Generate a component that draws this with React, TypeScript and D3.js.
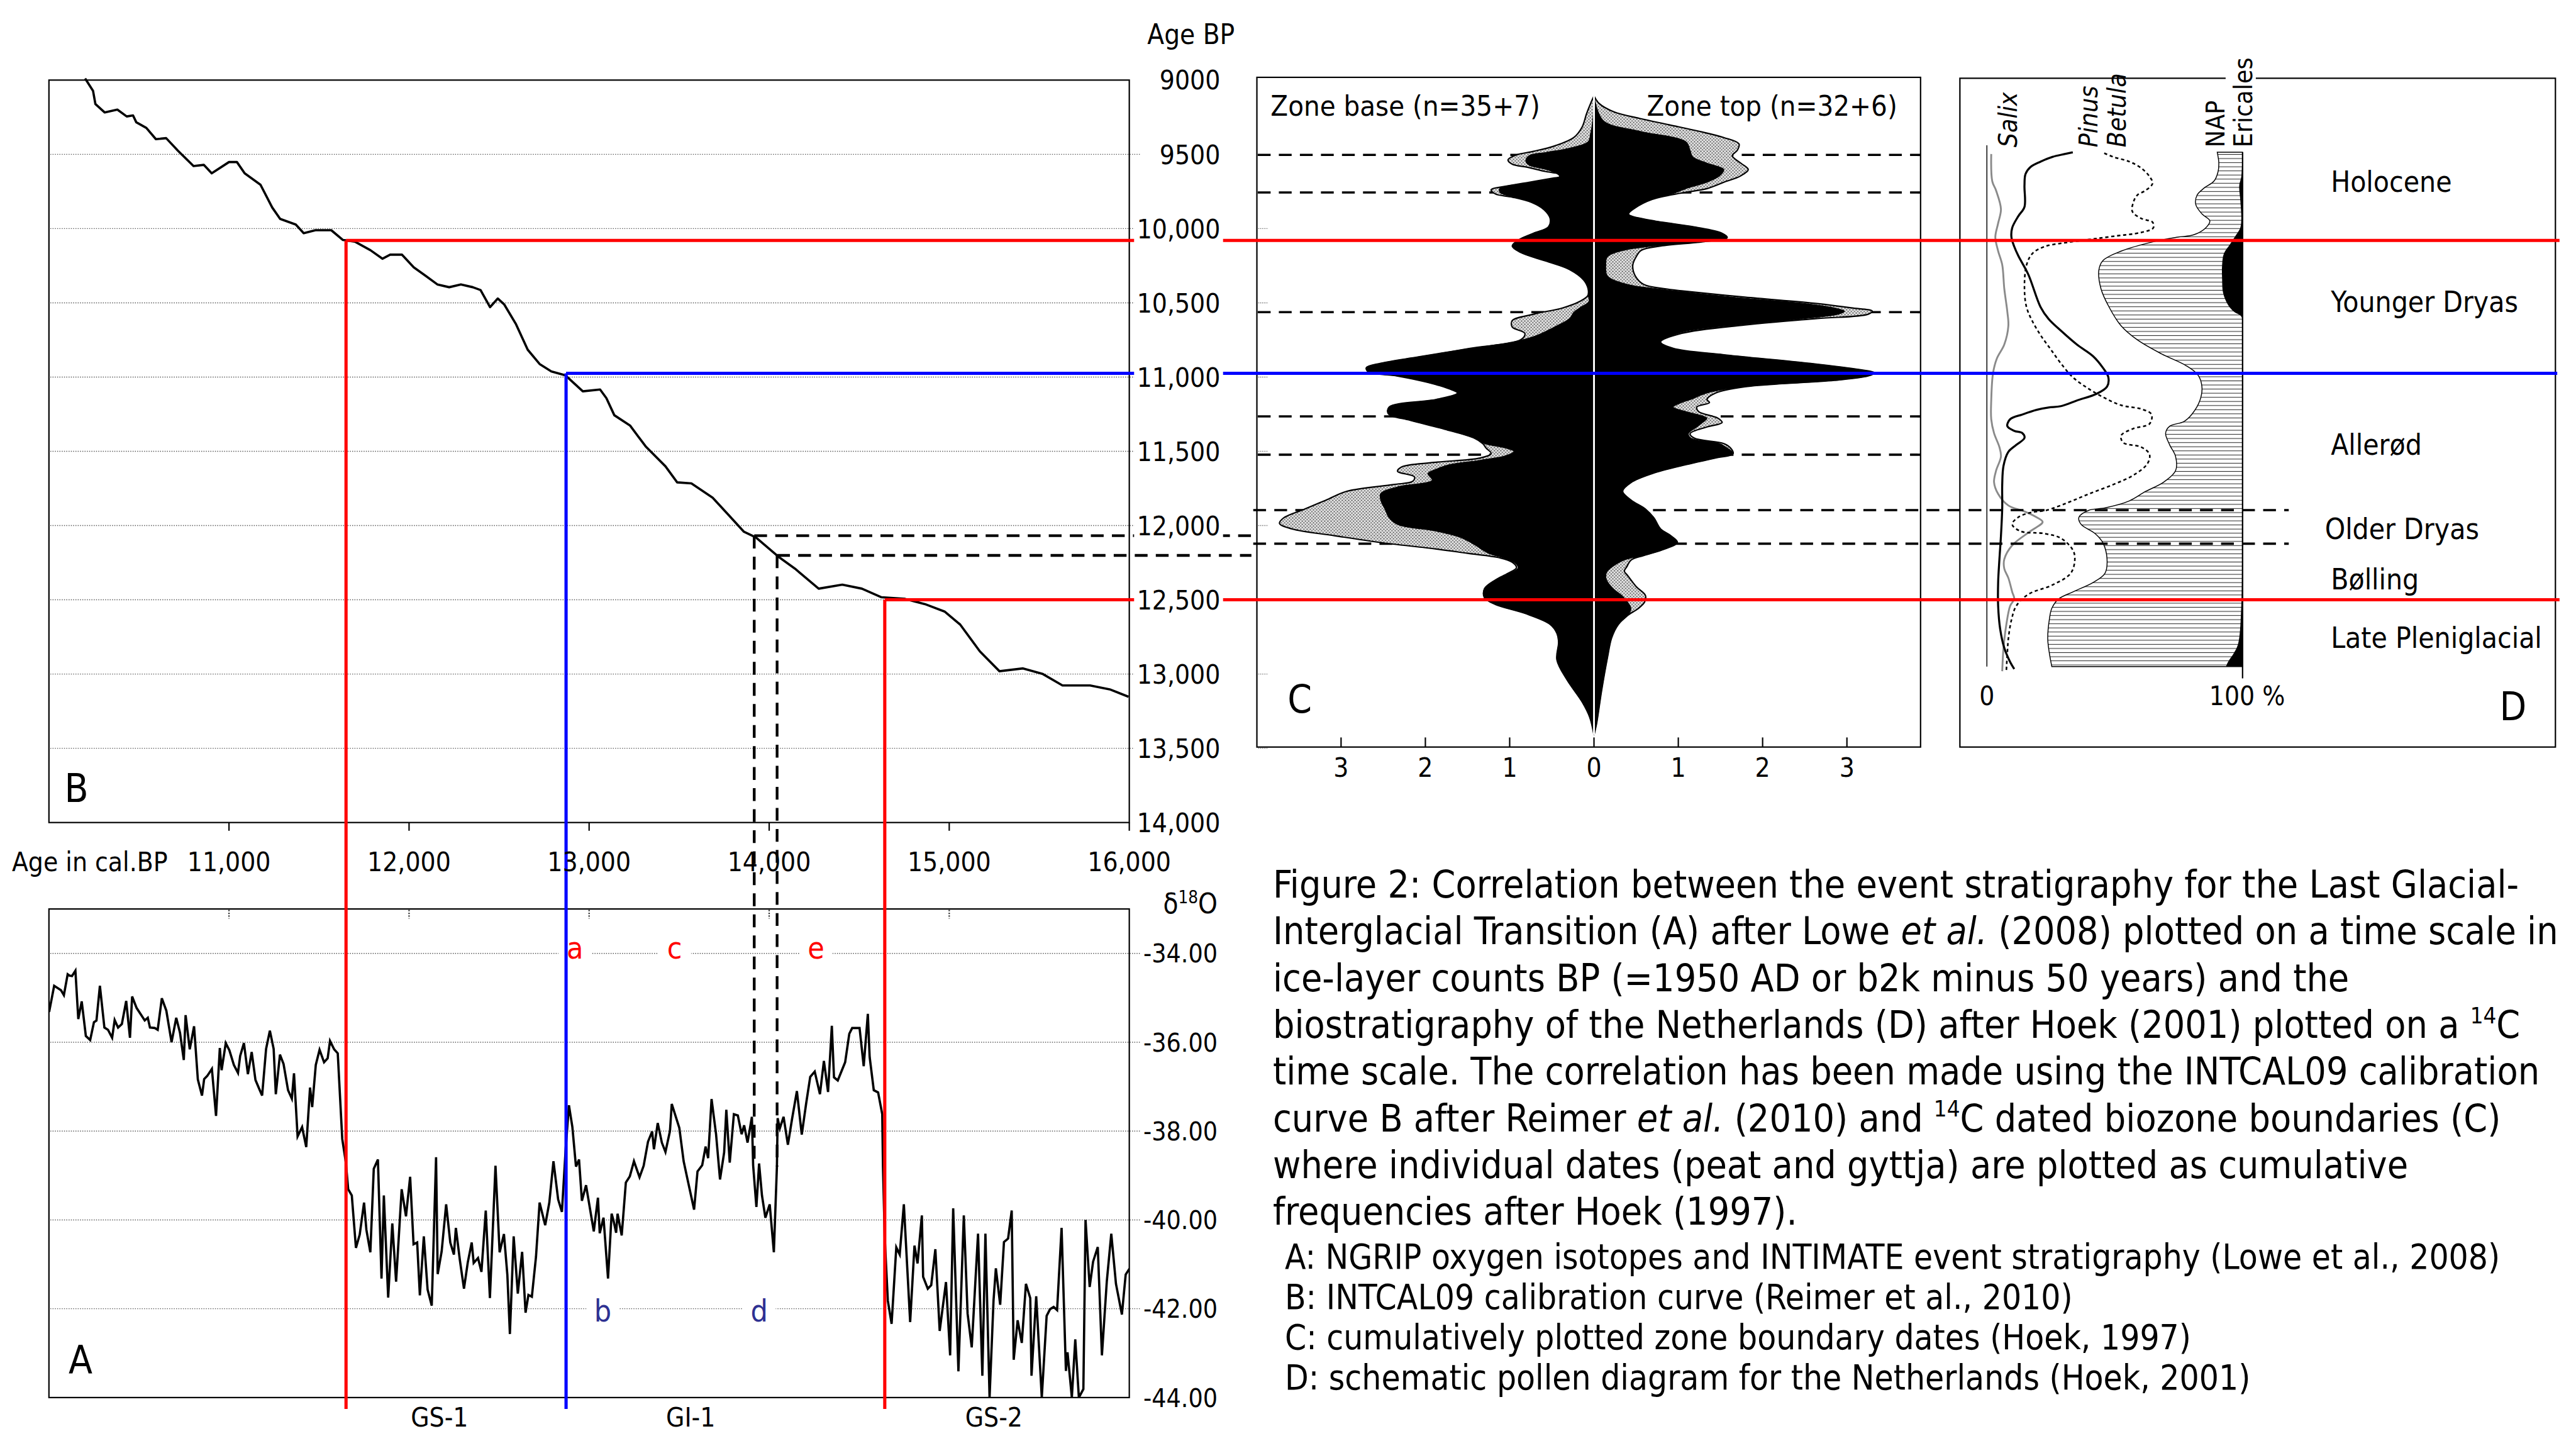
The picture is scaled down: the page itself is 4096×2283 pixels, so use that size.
import React, { useEffect, useRef } from "react";
import * as d3 from "d3";

const FONT = "'DejaVu Sans Condensed', 'DejaVu Sans', sans-serif";

// ---- B: INTCAL09 calibration curve (cal BP -> 14C BP)
const calB = [10201, 10245, 10258, 10310, 10380, 10432, 10467, 10485, 10541, 10594, 10651, 10716, 10803, 10860, 10904, 11000, 11044, 11087, 11175, 11240, 11284, 11371, 11415, 11480, 11568, 11633, 11699, 11786, 11852, 11895, 11961, 12026, 12092, 12157, 12223, 12288, 12354, 12397, 12450, 12493, 12528, 12594, 12659, 12725, 12790, 12869, 12965, 13061, 13096, 13140, 13227, 13314, 13424, 13489, 13568, 13686, 13773, 13860, 13926, 14057, 14144, 14275, 14406, 14515, 14624, 14755, 14865, 14974, 15061, 15170, 15279, 15410, 15520, 15629, 15782, 15891, 15996];
const c14B = [8989, 9073, 9161, 9218, 9199, 9245, 9238, 9284, 9322, 9398, 9391, 9475, 9579, 9571, 9628, 9552, 9552, 9628, 9705, 9858, 9935, 9973, 10031, 10011, 10011, 10077, 10088, 10146, 10203, 10176, 10176, 10261, 10318, 10376, 10395, 10376, 10395, 10414, 10529, 10471, 10510, 10644, 10816, 10912, 10962, 10989, 11096, 11084, 11142, 11257, 11326, 11467, 11601, 11709, 11716, 11812, 11927, 12042, 12080, 12215, 12291, 12425, 12398, 12425, 12483, 12494, 12529, 12579, 12667, 12847, 12981, 12962, 13000, 13077, 13077, 13103, 13153];

// ---- A: NGRIP d18O
const calA = [10001, 10029, 10056, 10067, 10083, 10104, 10114, 10128, 10147, 10163, 10182, 10205, 10229, 10250, 10264, 10283, 10308, 10328, 10351, 10365, 10384, 10405, 10429, 10450, 10462, 10487, 10516, 10532, 10549, 10561, 10588, 10604, 10627, 10652, 10681, 10707, 10728, 10749, 10759, 10782, 10806, 10827, 10850, 10862, 10879, 10905, 10928, 10949, 10959, 10982, 11002, 11027, 11050, 11062, 11083, 11105, 11126, 11147, 11171, 11184, 11206, 11227, 11248, 11260, 11283, 11303, 11328, 11349, 11361, 11381, 11406, 11429, 11450, 11462, 11482, 11503, 11528, 11548, 11561, 11584, 11604, 11629, 11649, 11662, 11682, 11705, 11726, 11750, 11763, 11785, 11804, 11827, 11847, 11860, 11884, 11907, 11928, 11959, 11983, 12006, 12025, 12045, 12060, 12082, 12103, 12126, 12150, 12159, 12181, 12206, 12229, 12249, 12260, 12282, 12305, 12326, 12348, 12359, 12383, 12402, 12426, 12449, 12480, 12503, 12527, 12546, 12560, 12581, 12604, 12628, 12647, 12663, 12682, 12705, 12725, 12756, 12779, 12802, 12828, 12849, 12870, 12888, 12907, 12927, 12944, 12960, 12983,
  13026, 13049, 13059, 13080, 13105, 13125, 13136, 13150, 13158, 13181, 13204, 13226, 13249, 13280, 13303, 13327, 13350, 13360, 13381, 13404, 13424, 13449, 13459, 13501, 13525, 13544, 13583, 13602, 13628, 13647, 13661, 13680, 13705, 13727, 13750, 13762, 13781, 13804, 13826, 13847, 13861, 13880, 13904, 13911, 13929, 13944, 13960, 13979, 14003, 14026, 14043, 14047, 14059, 14080, 14104, 14127, 14154, 14181, 14205, 14228, 14253, 14282, 14304, 14327, 14348, 14360, 14381, 14422, 14445, 14461, 14502, 14525, 14548, 14558, 14581, 14605, 14628, 14632, 14642, 14659, 14680, 14706, 14725, 14748, 14783, 14807, 14824, 14848, 14855, 14881, 14900, 14923, 14947, 14982, 15005, 15022, 15051, 15081, 15102, 15125, 15160, 15184, 15201, 15224, 15246, 15259, 15283, 15304, 15327, 15347, 15358, 15380, 15403, 15426, 15450, 15457, 15483, 15514, 15541, 15560, 15580, 15599, 15624, 15648, 15657, 15681, 15700, 15720, 15745, 15757, 15780, 15799, 15825, 15848, 15875, 15900, 15926, 15959, 15980, 16001];
const d18oA = [-35.32, -34.73, -34.80, -34.83, -34.94, -34.47, -34.50, -34.51, -34.39, -35.48, -35.08, -35.86, -35.95, -35.55, -35.51, -34.73, -35.67, -35.72, -35.90, -35.50, -35.67, -35.59, -35.07, -35.90, -34.97, -35.23, -35.41, -35.51, -35.45, -35.67, -35.68, -35.72, -35.01, -35.29, -36.00, -35.45, -35.79, -36.40, -35.39, -36.16, -35.64, -36.84, -37.20, -36.83, -36.76, -36.60, -37.66, -36.13, -36.63, -36.02, -36.18, -36.51, -36.69, -36.31, -36.02, -36.72, -36.22, -36.85, -37.08, -37.20, -36.15, -35.74, -36.15, -37.17, -36.28, -36.49, -37.08, -37.27, -36.70, -38.12, -37.91, -38.36, -37.02, -37.46, -36.51, -36.17, -36.45, -36.36, -35.97, -36.16, -36.25, -38.18, -38.71, -39.31, -39.45, -40.63, -40.33, -39.61, -40.22, -40.73, -38.85, -38.64, -41.32, -39.45, -41.75, -40.08, -41.39, -39.31, -39.92, -39.03, -40.55, -40.51, -41.70, -40.37, -41.57, -41.93, -38.59, -41.22, -40.71, -39.65, -40.51, -40.78, -40.18, -40.90, -41.55, -40.96, -40.51, -40.97, -40.86, -41.17, -39.79, -41.76, -38.78, -40.73, -40.32, -41.24, -42.57, -40.37, -41.66, -40.72, -42.09, -41.69, -41.73, -40.83, -39.61, -40.12, -39.61, -38.68, -39.54, -39.82, -38.39, -37.42, -37.91, -38.80, -38.64, -39.57, -39.22,
  -40.26, -39.50, -40.30, -39.95, -41.32, -39.86, -40.02, -40.29, -39.86, -40.35, -39.16, -39.02, -38.68, -39.04, -38.78, -38.24, -38.01, -38.41, -37.82, -38.26, -38.47, -38.00, -37.39, -37.93, -38.68, -39.04, -39.77, -38.91, -38.77, -38.35, -38.61, -37.28, -38.07, -39.09, -38.48, -37.52, -38.71, -37.62, -37.65, -38.07, -37.87, -38.26, -37.68, -38.77, -39.71, -38.73, -39.45, -39.95, -39.65, -40.73, -38.80, -37.71, -37.94, -37.68, -38.31, -37.73, -37.10, -38.08, -37.39, -36.78, -36.66, -37.17, -36.42, -37.12, -35.63, -36.79, -36.86, -36.45, -35.81, -35.68, -35.68, -36.54, -35.36, -36.33, -37.08, -37.13, -37.62, -38.80, -40.42, -41.82, -42.34, -40.62, -40.78, -39.65, -42.30, -40.58, -40.98, -39.90, -41.28, -41.55, -41.47, -40.66, -42.50, -41.40, -43.05, -39.74, -43.41, -39.90, -42.11, -42.87, -40.31, -43.51, -40.31, -44.00, -41.82, -41.09, -41.91, -40.50, -40.42, -39.79, -43.15, -42.26, -42.77, -41.44, -41.76, -43.51, -41.72, -44.00, -42.16, -42.01, -41.96, -42.03, -40.18, -43.40, -42.98, -44.00, -42.69, -44.00, -43.81, -40.00, -41.51, -40.94, -40.61, -43.05, -41.39, -40.31, -41.44, -42.13, -41.23, -41.10];

// ---- correlation lines (cal BP / 14C BP)
const redCal = [11650, 14642];
const redC14 = [10080, 12500];
const blueCal = 12872;
const blueC14 = 10975;
const dashCal = [13917, 14044];
const dashC14 = [12068, 12201];
const dashC = [9504, 9757, 10563, 11265, 11523];
const dashCD = [11896, 12122];

// ---- ticks
const yTicksB = [9000, 9500, 10000, 10500, 11000, 11500, 12000, 12500, 13000, 13500, 14000];
const xTicksCal = [11000, 12000, 13000, 14000, 15000, 16000];
const yTicksA = [-34, -36, -38, -40, -42, -44];
const cTicks = [-3, -2, -1, 0, 1, 2, 3];

// ---- event labels in A
const eventsRed = [["a", 12921], ["c", 13475], ["e", 14260]];
const eventsBlue = [["b", 13076], ["d", 13945]];
const stadials = [["GS-1", 12169], ["GI-1", 13564], ["GS-2", 15248]];

// ---- C: cumulative zone boundary dates [14C age, frequency]
const baseTotal = [[9107, 0], [9157, 0.04], [9229, 0.09], [9315, 0.14], [9387, 0.24], [9444, 0.47], [9480, 0.72], [9504, 0.92], [9537, 1.02], [9566, 0.97], [9587, 0.79], [9616, 0.57], [9633, 0.39], [9645, 0.34], [9659, 0.47], [9688, 0.77], [9717, 1.07], [9738, 1.22], [9767, 1.17], [9788, 0.97], [9824, 0.74], [9874, 0.59], [9932, 0.52], [9989, 0.54], [10032, 0.72], [10075, 0.89], [10118, 0.97], [10161, 0.87], [10219, 0.57], [10276, 0.29], [10348, 0.12], [10405, 0.07], [10448, 0.07], [10491, 0.17], [10534, 0.37], [10577, 0.72], [10620, 0.97], [10663, 0.97], [10706, 0.82], [10749, 0.87], [10807, 1.47], [10864, 2.08], [10907, 2.53], [10936, 2.70], [10964, 2.68], [10993, 2.33], [11036, 1.97], [11079, 1.72], [11108, 1.62], [11151, 1.87], [11202, 2.43], [11247, 2.44], [11291, 2.18], [11351, 1.77], [11411, 1.42], [11448, 1.32], [11478, 1.28], [11515, 1.22], [11545, 1.35], [11575, 1.9], [11605, 2.28], [11635, 2.33], [11672, 2.13], [11702, 2.15], [11724, 2.38], [11769, 2.93], [11829, 3.18], [11889, 3.43], [11948, 3.68], [11986, 3.73], [12023, 3.58], [12068, 3.08], [12113, 2.55], [12158, 1.87], [12187, 1.5], [12217, 1.12], [12247, 0.97], [12284, 0.92], [12322, 1.02], [12367, 1.17], [12426, 1.3], [12486, 1.3], [12531, 1.17], [12591, 0.82], [12665, 0.52], [12725, 0.44], [12785, 0.42], [12904, 0.44], [13039, 0.32], [13188, 0.14], [13292, 0.05], [13412, 0]];
const baseBlack = [[9107, 0], [9272, 0.015], [9358, 0.04], [9415, 0.07], [9458, 0.29], [9487, 0.57], [9509, 0.77], [9544, 0.81], [9573, 0.77], [9602, 0.57], [9630, 0.44], [9648, 0.41], [9666, 0.49], [9695, 0.82], [9731, 1.12], [9760, 1.11], [9788, 0.94], [9824, 0.74], [9874, 0.59], [9932, 0.52], [9989, 0.54], [10032, 0.72], [10075, 0.89], [10118, 0.97], [10161, 0.87], [10219, 0.57], [10276, 0.29], [10348, 0.12], [10405, 0.07], [10448, 0.07], [10491, 0.06], [10534, 0.17], [10563, 0.24], [10606, 0.29], [10649, 0.42], [10692, 0.57], [10728, 0.72], [10764, 0.97], [10807, 1.47], [10864, 2.08], [10907, 2.53], [10936, 2.7], [10964, 2.68], [10993, 2.33], [11036, 1.97], [11079, 1.72], [11108, 1.62], [11151, 1.87], [11202, 2.43], [11247, 2.44], [11291, 2.18], [11351, 1.77], [11411, 1.42], [11448, 1.3], [11478, 1.05], [11500, 0.95], [11530, 1.05], [11560, 1.35], [11590, 1.72], [11620, 1.87], [11650, 1.97], [11695, 1.92], [11739, 2.33], [11784, 2.53], [11829, 2.53], [11889, 2.48], [11948, 2.43], [11993, 2.33], [12038, 1.87], [12083, 1.57], [12128, 1.42], [12187, 1.25], [12217, 1.08], [12247, 0.95], [12284, 0.9], [12322, 1.0], [12367, 1.17], [12426, 1.3], [12486, 1.3], [12531, 1.17], [12591, 0.82], [12665, 0.52], [12725, 0.44], [12785, 0.42], [12904, 0.44], [13039, 0.32], [13188, 0.14], [13292, 0.05], [13412, 0]];
const topTotal = [[9107, 0], [9157, 0.06], [9215, 0.24], [9258, 0.54], [9301, 0.89], [9344, 1.24], [9387, 1.54], [9430, 1.72], [9473, 1.7], [9509, 1.64], [9559, 1.74], [9602, 1.83], [9645, 1.74], [9688, 1.54], [9731, 1.34], [9760, 1.04], [9803, 0.69], [9860, 0.49], [9903, 0.41], [9946, 0.69], [9989, 1.19], [10032, 1.52], [10061, 1.58], [10089, 1.29], [10118, 0.79], [10147, 0.56], [10190, 0.5], [10247, 0.46], [10319, 0.49], [10376, 0.59], [10405, 0.84], [10419, 1.04], [10462, 1.79], [10505, 2.65], [10534, 3.05], [10556, 3.3], [10577, 3.25], [10606, 2.65], [10649, 1.79], [10706, 1.04], [10764, 0.79], [10807, 0.94], [10850, 1.54], [10907, 2.55], [10950, 3.15], [10972, 3.33], [10993, 3.25], [11022, 2.85], [11065, 1.79], [11108, 1.44], [11151, 1.34], [11172, 1.37], [11202, 1.22], [11232, 1.24], [11277, 1.47], [11306, 1.52], [11336, 1.34], [11381, 1.14], [11411, 1.19], [11448, 1.54], [11478, 1.62], [11515, 1.65], [11545, 1.44], [11590, 1.09], [11650, 0.69], [11710, 0.44], [11769, 0.34], [11829, 0.44], [11889, 0.61], [11948, 0.71], [12023, 0.79], [12068, 0.91], [12113, 0.99], [12158, 0.84], [12202, 0.59], [12232, 0.44], [12277, 0.39], [12307, 0.36], [12337, 0.4], [12411, 0.5], [12471, 0.61], [12516, 0.6], [12561, 0.52], [12605, 0.4], [12665, 0.29], [12755, 0.21], [12889, 0.16], [13113, 0.09], [13337, 0.03], [13412, 0]];
const topBlack = [[9107, 0], [9272, 0.11], [9344, 0.54], [9415, 1.09], [9473, 1.14], [9516, 1.17], [9559, 1.34], [9602, 1.54], [9645, 1.49], [9688, 1.34], [9731, 1.09], [9760, 0.96], [9803, 0.69], [9860, 0.49], [9903, 0.41], [9946, 0.69], [9989, 1.19], [10032, 1.52], [10061, 1.58], [10089, 1.29], [10118, 0.7], [10147, 0.35], [10190, 0.16], [10247, 0.14], [10319, 0.16], [10376, 0.4], [10405, 0.75], [10419, 0.95], [10462, 1.65], [10505, 2.5], [10534, 2.85], [10556, 2.97], [10577, 2.9], [10606, 2.5], [10649, 1.7], [10706, 1.0], [10764, 0.79], [10807, 0.94], [10850, 1.54], [10907, 2.55], [10950, 3.15], [10972, 3.33], [10993, 3.25], [11022, 2.85], [11065, 1.79], [11108, 1.34], [11151, 1.15], [11172, 1.04], [11202, 0.94], [11232, 1.09], [11277, 1.34], [11306, 1.29], [11336, 1.22], [11381, 1.12], [11411, 1.15], [11448, 1.49], [11478, 1.58], [11515, 1.65], [11545, 1.44], [11590, 1.09], [11650, 0.69], [11710, 0.44], [11769, 0.34], [11829, 0.44], [11889, 0.61], [11948, 0.71], [12023, 0.79], [12068, 0.91], [12113, 0.99], [12158, 0.84], [12202, 0.59], [12232, 0.36], [12277, 0.22], [12307, 0.16], [12337, 0.14], [12367, 0.15], [12426, 0.23], [12471, 0.33], [12516, 0.4], [12561, 0.44], [12605, 0.4], [12665, 0.29], [12755, 0.21], [12889, 0.16], [13113, 0.09], [13337, 0.03], [13412, 0]];

// ---- D: schematic pollen diagram [14C age, %]
const salix = [[9498, 1.7], [9681, 2.1], [9744, 3.6], [9869, 5.5], [9964, 4.4], [10058, 3.3], [10151, 4.4], [10244, 6.0], [10404, 6.8], [10561, 8.0], [10655, 8.4], [10781, 6.8], [10875, 3.9], [10974, 2.4], [11158, 1.7], [11284, 1.7], [11378, 2.8], [11472, 4.9], [11535, 5.5], [11630, 3.6], [11708, 2.8], [11787, 4.4], [11865, 8.4], [11905, 14.7], [11944, 19.4], [11976, 21.8], [12038, 17.0], [12133, 9.9], [12227, 6.8], [12290, 6.8], [12353, 8.4], [12447, 9.9], [12494, 10.7], [12541, 9.1], [12667, 7.6], [12824, 6.5], [12981, 6.0]];
const pinus = [[9486, 33.6], [9498, 30.4], [9517, 25.7], [9549, 21.0], [9586, 17.0], [9633, 15.1], [9712, 14.7], [9854, 14.7], [9916, 12.3], [9995, 9.9], [10058, 9.6], [10121, 10.7], [10184, 12.3], [10309, 16.2], [10529, 21.0], [10608, 24.1], [10687, 28.9], [10781, 35.2], [10859, 41.5], [10938, 45.4], [11001, 47.5], [11064, 47.0], [11111, 43.1], [11158, 35.2], [11196, 28.9], [11205, 24.1], [11221, 19.4], [11252, 13.9], [11284, 9.1], [11331, 8.0], [11362, 10.7], [11378, 13.9], [11410, 14.7], [11457, 11.5], [11504, 8.4], [11598, 6.5], [11724, 6.0], [11881, 6.0], [12070, 5.5], [12227, 4.9], [12384, 4.4], [12541, 4.4], [12698, 5.2], [12824, 6.8], [12919, 9.1], [12966, 10.7]];
const betula = [[9492, 45.9], [9517, 49.4], [9549, 55.7], [9593, 60.4], [9649, 63.6], [9696, 64.8], [9744, 62.0], [9775, 58.8], [9822, 57.3], [9885, 56.9], [9932, 60.4], [9957, 64.8], [9995, 65.1], [10026, 60.4], [10052, 49.4], [10074, 39.9], [10096, 30.4], [10121, 22.6], [10168, 17.8], [10246, 15.5], [10404, 14.7], [10529, 15.5], [10624, 17.8], [10718, 21.0], [10812, 24.9], [10907, 28.9], [11001, 33.6], [11080, 39.9], [11142, 46.2], [11190, 52.5], [11215, 60.4], [11252, 64.4], [11315, 63.6], [11347, 57.3], [11394, 52.5], [11441, 53.3], [11472, 60.4], [11520, 63.6], [11583, 62.8], [11661, 57.3], [11724, 49.4], [11787, 39.9], [11843, 32.0], [11897, 23.3], [11913, 17.0], [11944, 12.3], [11991, 9.9], [12038, 13.1], [12054, 22.6], [12085, 28.9], [12164, 33.6], [12227, 34.4], [12321, 32.8], [12400, 25.7], [12463, 16.2], [12541, 11.5], [12636, 9.6], [12761, 8.4], [12856, 8.0], [12981, 7.6]];
const nap = [[9486, 90.1], [9555, 90.7], [9618, 90.4], [9681, 88.8], [9728, 84.9], [9775, 82.2], [9838, 81.7], [9901, 84.1], [9948, 87.2], [9995, 85.6], [10042, 80.9], [10058, 74.6], [10089, 65.1], [10152, 52.5], [10215, 45.4], [10278, 43.8], [10404, 44.6], [10529, 47.8], [10655, 52.5], [10749, 58.8], [10844, 68.3], [10922, 77.8], [10985, 82.5], [11064, 84.1], [11158, 83.3], [11252, 80.1], [11300, 77.0], [11331, 71.5], [11378, 69.9], [11457, 71.5], [11535, 73.8], [11630, 73.8], [11708, 69.1], [11771, 62.0], [11834, 55.7], [11881, 46.2], [11897, 39.9], [11944, 36.0], [11991, 36.8], [12054, 42.3], [12117, 45.4], [12227, 47.0], [12321, 46.2], [12384, 41.5], [12447, 33.6], [12494, 28.1], [12557, 25.4], [12636, 24.4], [12761, 23.8], [12856, 24.4], [12950, 25.4]];
const ericales = [[9486, 100], [9649, 99.5], [9712, 98.7], [9806, 99.1], [9932, 99.5], [9995, 99.1], [10042, 97.5], [10105, 95.1], [10168, 92.7], [10246, 92.0], [10341, 92.0], [10435, 92.4], [10514, 94.3], [10561, 96.7], [10592, 99.5], [10655, 100], [11913, 99.8], [12541, 99.5], [12793, 98.3], [12856, 96.7], [12919, 94.3], [12950, 93.5]];
const zones = [["Holocene", 9681], ["Younger Dryas", 10491], ["Allerød", 11455], ["Older Dryas", 12022], ["Bølling", 12361], ["Late Pleniglacial", 12755]];
const taxa = [["Salix", 4409, true], ["Pinus", 4585, true], ["Betula", 4647, true], ["NAP", 4863, false], ["Ericales", 4924, false]];

// ---- caption
const caption = [
  [{ t: "Figure 2: Correlation between the event stratigraphy for the Last Glacial-" }],
  [{ t: "Interglacial Transition (A) after Lowe " }, { t: "et al.", i: true }, { t: " (2008) plotted on a time scale in" }],
  [{ t: "ice-layer counts BP (=1950 AD or b2k minus 50 years) and the" }],
  [{ t: "biostratigraphy of the Netherlands (D) after Hoek (2001) plotted on a " }, { t: "14", s: true }, { t: "C" }],
  [{ t: "time scale. The correlation has been made using the INTCAL09 calibration" }],
  [{ t: "curve B after Reimer " }, { t: "et al.", i: true }, { t: " (2010) and " }, { t: "14", s: true }, { t: "C dated biozone boundaries (C)" }],
  [{ t: "where individual dates (peat and gyttja) are plotted as cumulative" }],
  [{ t: "frequencies after Hoek (1997)." }],
];
const captionSub = [
  "A: NGRIP oxygen isotopes and INTIMATE event stratigraphy (Lowe et al., 2008)",
  "B: INTCAL09 calibration curve (Reimer et al., 2010)",
  "C: cumulatively plotted zone boundary dates (Hoek, 1997)",
  "D: schematic pollen diagram for the Netherlands (Hoek, 2001)",
];

export default function App() {
  const ref = useRef<SVGSVGElement>(null);

  useEffect(() => {
    const svg = d3.select(ref.current);
    svg.selectAll("*").remove();

    const xCal = d3.scaleLinear().domain([10000, 16000]).range([107, 2469]);
    const yC14 = d3.scaleLinear().domain([9000, 14000]).range([175, 1798]);
    const yD18 = d3.scaleLinear().domain([-44, -33]).range([3055, 1987]);
    const cMid = 3485;
    const xC = d3.scaleLinear().domain([-3, 3]).range([cMid - 553, cMid + 553]);
    const xPct = d3.scaleLinear().domain([0, 100]).range([4344, 4903]);

    const txt = (g, x, y, s, size, anchor = "start") =>
      g.append("text")
        .attr("x", x)
        .attr("y", y + size * 0.36)
        .attr("font-size", size)
        .attr("font-family", FONT)
        .attr("text-anchor", anchor)
        .attr("fill", "#000")
        .text(s);
    const mask = (g, t, pad = 5) => {
      const b = t.node().getBBox();
      g.insert("rect", () => t.node())
        .attr("x", b.x - pad).attr("y", b.y).attr("width", b.width + 2 * pad).attr("height", b.height)
        .attr("fill", "#fff");
    };
    const hline = (g, y, x1, x2) => g.append("line").attr("x1", x1).attr("x2", x2).attr("y1", y).attr("y2", y);
    const vline = (g, x, y1, y2) => g.append("line").attr("x1", x).attr("x2", x).attr("y1", y1).attr("y2", y2);

    const defs = svg.append("defs");
    const st = defs.append("pattern").attr("id", "stipple").attr("patternUnits", "userSpaceOnUse").attr("width", 7).attr("height", 7);
    st.append("rect").attr("width", 7).attr("height", 7).attr("fill", "#e6e6e6");
    st.append("circle").attr("cx", 1.75).attr("cy", 1.75).attr("r", 1.5).attr("fill", "#555");
    st.append("circle").attr("cx", 5.25).attr("cy", 5.25).attr("r", 1.5).attr("fill", "#555");
    const ht = defs.append("pattern").attr("id", "hatch").attr("patternUnits", "userSpaceOnUse").attr("width", 12).attr("height", 9);
    ht.append("rect").attr("width", 12).attr("height", 9).attr("fill", "#fff");
    ht.append("line").attr("x1", 0).attr("x2", 12).attr("y1", 4.5).attr("y2", 4.5).attr("stroke", "#333").attr("stroke-width", 1.5);
    defs.append("clipPath").attr("id", "clipA").append("rect").attr("x", 107).attr("y", 1987).attr("width", 2362).attr("height", 1068);

    svg.append("rect").attr("width", 5632).attr("height", 3139).attr("fill", "#fff");

    // ---------- panel B frame
    const gB = svg.append("g");
    gB.selectAll(".gb").data(yTicksB.slice(1, -1)).join("line")
      .attr("x1", 110).attr("x2", 2493).attr("y1", d => yC14(d)).attr("y2", d => yC14(d))
      .attr("stroke", "#555").attr("stroke-width", 2).attr("stroke-dasharray", "2,3");
    gB.append("rect").attr("x", 107).attr("y", 175).attr("width", 2362).attr("height", 1623)
      .attr("fill", "none").attr("stroke", "#000").attr("stroke-width", 3);
    gB.selectAll(".tb").data(xTicksCal).join("line")
      .attr("x1", d => xCal(d)).attr("x2", d => xCal(d)).attr("y1", 1798).attr("y2", 1816)
      .attr("stroke", "#000").attr("stroke-width", 3);

    // ---------- panel A frame
    const gA = svg.append("g");
    gA.selectAll(".ga").data(yTicksA.slice(0, -1)).join("line")
      .attr("x1", 110).attr("x2", 2493).attr("y1", d => yD18(d)).attr("y2", d => yD18(d))
      .attr("stroke", "#555").attr("stroke-width", 2).attr("stroke-dasharray", "2,3");
    gA.selectAll(".ta").data(xTicksCal.slice(0, -1)).join("line")
      .attr("x1", d => xCal(d)).attr("x2", d => xCal(d)).attr("y1", 1989).attr("y2", 2008)
      .attr("stroke", "#333").attr("stroke-width", 3).attr("stroke-dasharray", "3,3");
    gA.append("rect").attr("x", 107).attr("y", 1987).attr("width", 2362).attr("height", 1068)
      .attr("fill", "none").attr("stroke", "#000").attr("stroke-width", 3);
    [...eventsRed.map(e => [e[1], -33.87]), ...eventsBlue.map(e => [e[1], -42.04])].forEach(([c, v]) => {
      gA.append("rect").attr("x", xCal(c) - 36).attr("y", yD18(v) - 36).attr("width", 72).attr("height", 72).attr("fill", "#fff");
    });

    // ---------- panel C frame + grey areas
    const gC = svg.append("g");
    gC.append("rect").attr("x", 2748).attr("y", 169).attr("width", 1451).attr("height", 1464)
      .attr("fill", "none").attr("stroke", "#000").attr("stroke-width", 3);
    gC.selectAll(".tc").data(yTicksB.slice(2, -1)).join("line")
      .attr("x1", 2751).attr("x2", 2772).attr("y1", d => yC14(d)).attr("y2", d => yC14(d))
      .attr("stroke", "#777").attr("stroke-width", 2).attr("stroke-dasharray", "2,2");
    gC.selectAll(".tcx").data(cTicks).join("line")
      .attr("x1", d => xC(d)).attr("x2", d => xC(d)).attr("y1", 1612).attr("y2", 1633)
      .attr("stroke", "#000").attr("stroke-width", 3);
    const curve = d3.curveCatmullRom.alpha(0.5);
    const areaC = (sign) => d3.area().curve(curve).y(d => yC14(d[0])).x0(cMid).x1(d => xC(sign * d[1]));
    const lineC = (sign) => d3.line().curve(curve).y(d => yC14(d[0])).x(d => xC(sign * d[1]));
    [[baseTotal, -1], [topTotal, 1]].forEach(([data, s]) => {
      gC.append("path").attr("d", areaC(s)(data)).attr("fill", "url(#stipple)");
      gC.append("path").attr("d", lineC(s)(data)).attr("fill", "none").attr("stroke", "#000").attr("stroke-width", 3);
    });

    // ---------- panel D
    const gD = svg.append("g");
    gD.append("rect").attr("x", 4285).attr("y", 171).attr("width", 1302).attr("height", 1462)
      .attr("fill", "none").attr("stroke", "#000").attr("stroke-width", 3);
    gD.append("rect").attr("x", 4866).attr("y", 150).attr("width", 66).attr("height", 40).attr("fill", "#fff");
    const lineD = d3.line().curve(curve).y(d => yC14(d[0])).x(d => xPct(d[1]));
    const areaD = d3.area().curve(curve).y(d => yC14(d[0])).x0(d => xPct(d[1])).x1(xPct(100));
    gD.append("path").attr("d", areaD(nap)).attr("fill", "url(#hatch)").attr("stroke", "#000").attr("stroke-width", 2);
    gD.append("path").attr("d", areaD(ericales)).attr("fill", "#000");
    vline(gD, xPct(0), yC14(9439), yC14(12950)).attr("stroke", "#000").attr("stroke-width", 2);
    vline(gD, xPct(100), yC14(9486), yC14(13029)).attr("stroke", "#000").attr("stroke-width", 3);
    gD.append("path").attr("d", lineD(salix)).attr("fill", "none").attr("stroke", "#8a8a8a").attr("stroke-width", 4);
    gD.append("path").attr("d", lineD(pinus)).attr("fill", "none").attr("stroke", "#000").attr("stroke-width", 4.5);
    gD.append("path").attr("d", lineD(betula)).attr("fill", "none").attr("stroke", "#000").attr("stroke-width", 3.5).attr("stroke-dasharray", "7,6");

    // ---------- dashed correlation lines
    const gL = svg.append("g").attr("stroke", "#000").attr("stroke-width", 6).attr("stroke-dasharray", "28,18").attr("fill", "none");
    dashCal.forEach((c, i) => {
      vline(gL, xCal(c), yC14(dashC14[i]), 2550);
      hline(gL, yC14(dashC14[i]), xCal(c), 2736);
    });
    dashC.forEach(a => hline(gL, yC14(a), 2750, 4198).attr("stroke-width", 5));
    dashCD.forEach(a => hline(gL, yC14(a), 2740, 5004).attr("stroke-width", 5));

    // ---------- C black areas + centre line
    gC.raise();
    [[baseBlack, -1], [topBlack, 1]].forEach(([data, s]) => {
      gC.append("path").attr("d", areaC(s)(data)).attr("fill", "#000").attr("stroke", "#000").attr("stroke-width", 1.5);
    });
    vline(gC, cMid, yC14(9100), yC14(13412)).attr("stroke", "#fff").attr("stroke-width", 4);

    // ---------- curves
    svg.append("path")
      .attr("d", d3.line().x(d => xCal(d[0])).y(d => yC14(d[1]))(d3.zip(calB, c14B)))
      .attr("fill", "none").attr("stroke", "#000").attr("stroke-width", 5).attr("stroke-linejoin", "round");
    svg.append("path").attr("clip-path", "url(#clipA)")
      .attr("d", d3.line().x(d => xCal(d[0])).y(d => yD18(d[1]))(d3.zip(calA, d18oA)))
      .attr("fill", "none").attr("stroke", "#000").attr("stroke-width", 5).attr("stroke-linejoin", "miter");

    // ---------- red / blue correlation lines
    const gR = svg.append("g").attr("stroke-width", 7);
    redCal.forEach((c, i) => {
      vline(gR, xCal(c), yC14(redC14[i]), 3080).attr("stroke", "#ff0000");
      hline(gR, yC14(redC14[i]), xCal(c), 5596).attr("stroke", "#ff0000");
    });
    vline(gR, xCal(blueCal), yC14(blueC14), 3080).attr("stroke", "#0000ff");
    hline(gR, yC14(blueC14), xCal(blueCal), 5591).attr("stroke", "#0000ff");

    // ---------- labels
    const gT = svg.append("g");
    yTicksB.forEach(d => {
      const t = txt(gT, 2668, yC14(d), d < 10000 ? String(d) : d3.format(",")(d), 58, "end");
      mask(gT, t, 6);
    });
    txt(gT, 2604, 75, "Age BP", 60, "middle");
    txt(gT, 26, 1884, "Age in cal.BP", 58);
    xTicksCal.forEach(d => txt(gT, xCal(d), 1884, d3.format(",")(d), 58, "middle"));
    txt(gT, 141, 1722, "B", 85);

    yTicksA.forEach(d => txt(gT, 2662, yD18(d), d.toFixed(2), 56, "end"));
    const dt = gT.append("text").attr("x", 2662).attr("y", 1975 + 22).attr("font-size", 60).attr("font-family", FONT).attr("text-anchor", "end");
    dt.append("tspan").text("δ");
    dt.append("tspan").attr("font-size", 38).attr("dy", -22).text("18");
    dt.append("tspan").attr("dy", 22).text("O");
    eventsRed.forEach(([k, c]) => txt(gT, xCal(c), yD18(-33.87), k, 66, "middle").attr("fill", "#ff0000"));
    eventsBlue.forEach(([k, c]) => txt(gT, xCal(c), yD18(-42.04), k, 66, "middle").attr("fill", "#2e3192"));
    stadials.forEach(([k, c]) => txt(gT, xCal(c), 3098, k, 58, "middle"));
    txt(gT, 150, 2972, "A", 85);

    txt(gT, 2778, 230, "Zone base (n=35+7)", 62);
    txt(gT, 4148, 230, "Zone top (n=32+6)", 62, "end");
    cTicks.forEach(d => txt(gT, xC(d), 1677, String(Math.abs(d)), 58, "middle"));
    txt(gT, 2815, 1527, "C", 85);

    zones.forEach(([k, a]) => txt(gT, k === "Older Dryas" ? 5083 : 5096, yC14(a), k, 63));
    taxa.forEach(([k, x, it]) => {
      gT.append("text").attr("transform", `translate(${x},322) rotate(-90)`)
        .attr("font-size", 56).attr("font-family", FONT).attr("font-style", it ? "italic" : "normal").text(k);
    });
    txt(gT, xPct(0), 1521, "0", 58, "middle");
    txt(gT, 4913, 1521, "100 %", 58, "middle");
    txt(gT, 5465, 1544, "D", 85);

    // ---------- caption
    caption.forEach((segs, i) => {
      const t = gT.append("text").attr("x", 2783).attr("y", 1932 + i * 102.2 + 30).attr("font-size", 83).attr("font-family", FONT);
      segs.forEach((s, j) => {
        const sp = t.append("tspan").text(s.t);
        if (s.i) sp.attr("font-style", "italic");
        if (s.s) sp.attr("font-size", 50).attr("dy", -32);
        else if (j > 0 && segs[j - 1].s) sp.attr("dy", 32);
      });
    });
    captionSub.forEach((s, i) => {
      gT.append("text").attr("x", 2809).attr("y", 2746 + i * 88 + 27).attr("font-size", 75).attr("font-family", FONT).text(s);
    });
  }, []);

  return (
    <svg
      ref={ref}
      width={4096}
      height={2283}
      viewBox="0 0 5632 3139"
      style={{ position: "absolute", left: 0, top: 0, display: "block" }}
    />
  );
}
